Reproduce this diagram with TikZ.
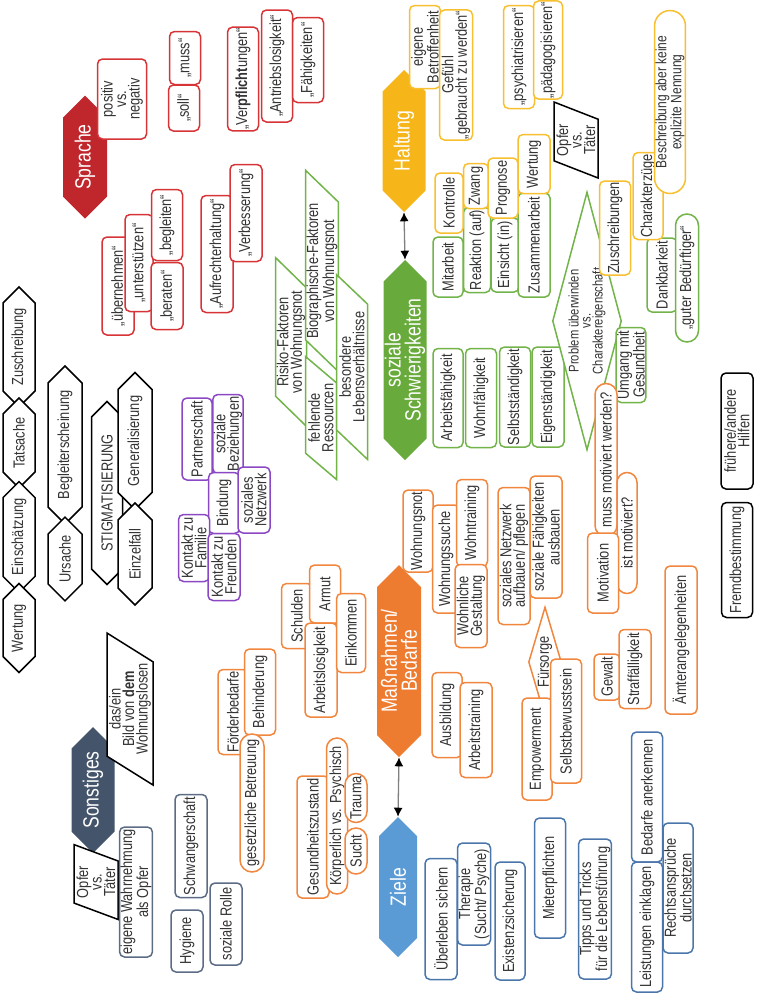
\documentclass[tikz,border=0pt]{standalone}
\usepackage{fontspec}
\setmainfont[FakeStretch=0.8]{Liberation Sans}
\usetikzlibrary{arrows.meta,shapes.symbols,shapes.geometric,shapes.misc}

\definecolor{sprRed}{RGB}{192,39,45}
\definecolor{sprLine}{RGB}{215,52,56}
\definecolor{halYellow}{RGB}{246,182,25}
\definecolor{halLine}{RGB}{248,192,48}
\definecolor{sozGreen}{RGB}{104,170,60}
\definecolor{sozLine}{RGB}{114,180,74}
\definecolor{masOrange}{RGB}{238,124,48}
\definecolor{masLine}{RGB}{241,134,62}
\definecolor{zielBlue}{RGB}{91,155,213}
\definecolor{zielLine}{RGB}{74,118,172}
\definecolor{sonSlate}{RGB}{68,84,106}
\definecolor{sonLine}{RGB}{92,108,134}
\definecolor{bezPurple}{RGB}{140,72,196}

\begin{document}
\begin{tikzpicture}[
  x=1pt, y=-1pt,
  every node/.style={rotate=90, align=center, inner sep=1pt, text=black!80,
    font=\fontsize{16}{13.5}\selectfont},
  sz/.style 2 args={minimum height=#1pt, minimum width=#2pt},
  topic/.style={signal, signal to=east and west, signal pointer angle=90,
    fill=#1, text=white, font=\fontsize{22}{20}\selectfont},
  entry/.style={draw=#1, fill=white, line width=1.5pt, rounded corners=5pt},
  pill/.style={draw=#1, fill=white, line width=1.5pt, rounded rectangle},
  hexa/.style={signal, signal to=east and west, signal pointer angle=90,
    draw=black, fill=white, line width=1.5pt},
  slant/.style={draw=#1, fill=white, line width=1.5pt, trapezium, trapezium stretches=true},
  rhomb/.style={draw=#1, fill=white, line width=1.5pt, diamond, inner sep=0pt},
  link/.style={{Latex[length=9pt,width=9pt,black]}-{Latex[length=9pt,width=9pt,black]},
    gray, line width=1.3pt}
]
  \useasboundingbox (0,0) rectangle (757,993);

  % main topics
  \node[topic=sprRed, sz={44}{123}] (sprache) at (85,157) {Sprache};
  \node[topic=halYellow, sz={43}{142}] (haltung) at (404,141) {Haltung};
  \node[topic=sozGreen, sz={43}{200}] (sozial) at (405,360) {soziale\\Schwierigkeiten};
  \node[topic=masOrange, sz={44}{192}] (massn) at (399,661) {Maßnahmen/\\Bedarfe};
  \node[topic=zielBlue, sz={38}{140}] (ziele) at (398,887) {Ziele};
  \node[topic=sonSlate, sz={43}{126}] (sonst) at (93,790) {Sonstiges};

  \draw[link] (haltung.west) -- (sozial.east);
  \draw[link] (massn.west) -- (ziele.east);

  % Sprache
  \node[entry=sprLine, sz={49}{80}] (posneg) at (122,99) {positiv\\vs.\\negativ};
  \node[entry=sprLine, sz={31}{46}] (soll) at (184,108) {„soll“};
  \node[entry=sprLine, sz={31}{53}] (muss) at (185,58) {„muss“};
  \node[entry=sprLine, sz={31}{103}] (verpfl) at (243,79) {„Ver\textbf{pflicht}ungen“};
  \node[entry=sprLine, sz={31}{112}] (antrieb) at (277,66) {„Antriebslosigkeit“};
  \node[entry=sprLine, sz={31}{85}] (faehig) at (308,60) {„Fähigkeiten“};
  \node[entry=sprLine, sz={32}{98}] (uebern) at (118,286) {„übernehmen“};
  \node[entry=sprLine, sz={28}{97}] (unterst) at (139,263) {„unterstützen“};
  \node[entry=sprLine, sz={31}{71}] (begl) at (167,225) {„begleiten“};
  \node[entry=sprLine, sz={32}{67}] (berat) at (167,296) {„beraten“};
  \node[entry=sprLine, sz={32}{117}] (aufrecht) at (217,254) {„Aufrechterhaltung“};
  \node[entry=sprLine, sz={32}{97}] (verbess) at (246,213) {„Verbesserung“};

  % Stigmatisierung
  \node[hexa, sz={32}{120}] (zuschr) at (19,347) {Zuschreibung};
  \node[hexa, sz={32}{90}] (tats) at (19,443) {Tatsache};
  \node[hexa, sz={32}{107}] (einsch) at (19,537) {Einschätzung};
  \node[hexa, sz={32}{89}] (wert) at (19,628) {Wertung};
  \node[hexa, sz={34}{158}] (begleit) at (65,445) {Begleiterscheinung};
  \node[hexa, sz={34}{82}] (urs) at (65,559) {Ursache};
  \node[hexa, sz={31}{183}] (stigma) at (107,493) {STIGMATISIERUNG};
  \node[hexa, sz={34}{137}] (general) at (135,441) {Generalisierung};
  \node[hexa, sz={34}{102}] (einzel) at (135,554) {Einzelfall};

  % Beziehungen
  \node[entry=bezPurple, sz={30}{82}] (partner) at (197,439) {Partnerschaft};
  \node[entry=bezPurple, sz={30}{79}] (sozbez) at (228,434) {soziale\\Beziehungen};
  \node[entry=bezPurple, sz={31}{61}] (bind) at (224,503) {Bindung};
  \node[entry=bezPurple, sz={32}{66}] (soznetz) at (254,500) {soziales\\Netzwerk};
  \node[entry=bezPurple, sz={31}{67}] (kfam) at (194,548) {Kontakt zu\\Familie};
  \node[entry=bezPurple, sz={32}{67}] (kfreund) at (224,567) {Kontakt zu\\Freunden};

  \node[slant=black, trapezium left angle=57, trapezium right angle=123, sz={46}{152}]
    (bild) at (130,709) {das/ein\\Bild von \textbf{dem}\\Wohnungslosen};

  % soziale Schwierigkeiten
  \node[slant=sozLine, trapezium left angle=46, trapezium right angle=134, sz={31}{169}]
    (risiko) at (291,342) {Risiko-Faktoren\\von Wohnungsnot};
  \node[slant=sozLine, trapezium left angle=46, trapezium right angle=134, sz={31}{183}]
    (biogr) at (322,271) {Biographische-Faktoren\\von Wohnungsnot};
  \node[slant=sozLine, trapezium left angle=46, trapezium right angle=134, sz={31}{110}]
    (fehlend) at (321,418) {fehlende\\Ressourcen};
  \node[slant=sozLine, trapezium left angle=46, trapezium right angle=134, sz={31}{185}]
    (besond) at (352,367) {besondere\\Lebensverhältnisse};
  \node[entry=sozLine, sz={30}{99}] (arbf) at (448,398) {Arbeitsfähigkeit};
  \node[entry=sozLine, sz={31}{99}] (wohnf) at (481,398) {Wohnfähigkeit};
  \node[entry=sozLine, sz={31}{100}] (selbst) at (515,397) {Selbstständigkeit};
  \node[entry=sozLine, sz={32}{100}] (eigen) at (548,397) {Eigenständigkeit};
  \node[rhomb=sozLine, aspect=3.7, sz={69}{258}, font=\fontsize{14}{12}\selectfont]
    (problem) at (587,321) {Problem überwinden\\vs.\\Charaktereigenschaft};
  \node[entry=sozLine, sz={28}{75}] (umgang) at (631,365) {Umgang mit\\Gesundheit};
  \node[entry=sozLine, sz={30}{60}] (mitarb) at (448,267) {Mitarbeit};
  \node[entry=sozLine, sz={27}{85}] (reakt) at (477,250) {Reaktion (auf)};
  \node[entry=sozLine, sz={28}{74}] (einsicht) at (505,255) {Einsicht (in)};
  \node[entry=sozLine, sz={32}{104}] (zusam) at (534,245) {Zusammenarbeit};
  \node[entry=sozLine, sz={30}{74}] (dankb) at (662,275) {Dankbarkeit};
  \node[pill=sozLine, sz={23}{130}] (guter) at (687,278) {„guter Bedürftiger“};

  % Haltung
  \node[entry=halLine, sz={31}{83}] (eigbetr) at (425,47) {eigene\\Betroffenheit};
  \node[entry=halLine, sz={33}{129}] (gefuehl) at (456,75) {Gefühl\\„gebraucht zu werden“};
  \node[entry=halLine, sz={31}{103}] (psych) at (519,57) {„psychiatrisieren“};
  \node[entry=halLine, sz={29}{95}] (paed) at (548,50) {„pädagogisieren“};
  \node[slant=black, trapezium left angle=71, trapezium right angle=109, sz={44}{76}]
    (opfer) at (576,140) {Opfer\\vs.\\Täter};
  \node[entry=halLine, sz={28}{60}] (kontr) at (449,203) {Kontrolle};
  \node[entry=halLine, sz={25}{45}] (zwang) at (476,186) {Zwang};
  \node[entry=halLine, sz={30}{60}] (progn) at (503,188) {Prognose};
  \node[entry=halLine, sz={32}{59}] (wertung) at (534,164) {Wertung};
  \node[entry=halLine, sz={31}{94}] (zuschrb) at (615,228) {Zuschreibungen};
  \node[entry=halLine, sz={30}{87}] (charakt) at (648,196) {Charakterzüge};
  \node[pill=halLine, sz={28}{185}, font=\fontsize{15}{11}\selectfont]
    (beschr) at (670,102) {Beschreibung aber keine\\explizite Nennung};

  % Massnahmen / Bedarfe
  \node[entry=masLine, sz={30}{82}] (wnot) at (418,531) {Wohnungsnot};
  \node[entry=masLine, sz={27}{108}] (wsuche) at (446,559) {Wohnungssuche};
  \node[entry=masLine, sz={31}{87}] (wtrain) at (472,523) {Wohntraining};
  \node[entry=masLine, sz={32}{83}] (wgest) at (471,606) {Wohnliche\\Gestaltung};
  \node[entry=masLine, sz={32}{137}] (snetz) at (514,556) {soziales Netzwerk\\aufbauen/ pflegen};
  \node[entry=masLine, sz={32}{122}] (sfaeh) at (546,537) {soziale Fähigkeiten\\ausbauen};
  \node[pill=masLine, sz={22}{155}] (mussmot) at (606,460) {muss motiviert werden?};
  \node[pill=masLine, sz={20}{123}] (istmot) at (627,533) {ist motiviert?};
  \node[entry=masLine, sz={31}{80}] (motiv) at (603,573) {Motivation};
  \node[rhomb=masLine, aspect=3.3, sz={33}{110}] (fuers) at (545,662) {Fürsorge};
  \node[entry=masLine, sz={30}{102}] (empow) at (537,749) {Empowerment};
  \node[entry=masLine, sz={31}{124}] (selbstb) at (566,721) {Selbstbewusstsein};
  \node[entry=masLine, sz={26}{46}] (gewalt) at (607,677) {Gewalt};
  \node[entry=masLine, sz={32}{79}] (straff) at (635,669) {Straffälligkeit};
  \node[entry=masLine, sz={32}{148}] (aemter) at (681,640) {Ämterangelegenheiten};
  \node[entry=masLine, sz={30}{85}] (ausb) at (447,715) {Ausbildung};
  \node[entry=masLine, sz={32}{95}] (arbtr) at (476,730) {Arbeitstraining};
  \node[entry=masLine, sz={31}{65}] (schuld) at (297,616) {Schulden};
  \node[entry=masLine, sz={31}{58}] (armut) at (325,594) {Armut};
  \node[entry=masLine, sz={32}{94}] (arblos) at (321,670) {Arbeitslosigkeit};
  \node[entry=masLine, sz={29}{79}] (einkom) at (351,633) {Einkommen};
  \node[entry=masLine, sz={30}{85}] (foerder) at (233,712) {Förderbedarfe};
  \node[entry=masLine, sz={31}{86}] (behind) at (260,692) {Behinderung};
  \node[pill=masLine, sz={24}{140}] (gesbetr) at (252,803) {gesetzliche Betreuung};
  \node[entry=masLine, sz={32}{122}] (gesund) at (313,837) {Gesundheitszustand};
  \node[pill=masLine, sz={21}{158}] (koerper) at (337,816) {Körperlich vs. Psychisch};
  \node[pill=masLine, sz={22}{51}] (trauma) at (356,798) {Trauma};
  \node[pill=masLine, sz={22}{48}] (sucht) at (356,851) {Sucht};

  % Ziele
  \node[entry=zielLine, sz={32}{121}] (ueberl) at (441,919) {Überleben sichern};
  \node[entry=zielLine, sz={33}{102}] (therap) at (474,894) {Therapie\\(Sucht/ Psyche)};
  \node[entry=zielLine, sz={30}{118}] (exist) at (510,921) {Existenzsicherung};
  \node[entry=zielLine, sz={31}{120}] (mieter) at (550,878) {Mieterpflichten};
  \node[entry=zielLine, sz={32}{140}] (tipps) at (595,909) {Tipps und Tricks\\für die Lebensführung};
  \node[entry=zielLine, sz={31}{130}] (bedarf) at (647,797) {Bedarfe anerkennen};
  \node[entry=zielLine, sz={31}{130}] (leist) at (647,927) {Leistungen einklagen};
  \node[entry=zielLine, sz={30}{130}] (recht) at (678,888) {Rechtsansprüche\\durchsetzen};

  % Sonstiges
  \node[slant=black, trapezium left angle=72, trapezium right angle=108, sz={44}{75}]
    (opfersonst) at (96,882) {Opfer\\vs.\\Täter};
  \node[entry=sonLine, sz={32}{130}] (eigwahr) at (136,892) {eigene Wahrnehmung\\als Opfer};
  \node[entry=sonLine, sz={32}{103}] (schwang) at (191,846) {Schwangerschaft};
  \node[entry=sonLine, sz={32}{62}] (hyg) at (187,941) {Hygiene};
  \node[entry=sonLine, sz={32}{82}] (sozrolle) at (226,924) {soziale Rolle};

  % Hilfen
  \node[entry=black, sz={32}{116}] (frueher) at (737,431) {frühere/andere\\Hilfen};
  \node[entry=black, sz={31}{115}] (fremd) at (737,560) {Fremdbestimmung};
\end{tikzpicture}
\end{document}
